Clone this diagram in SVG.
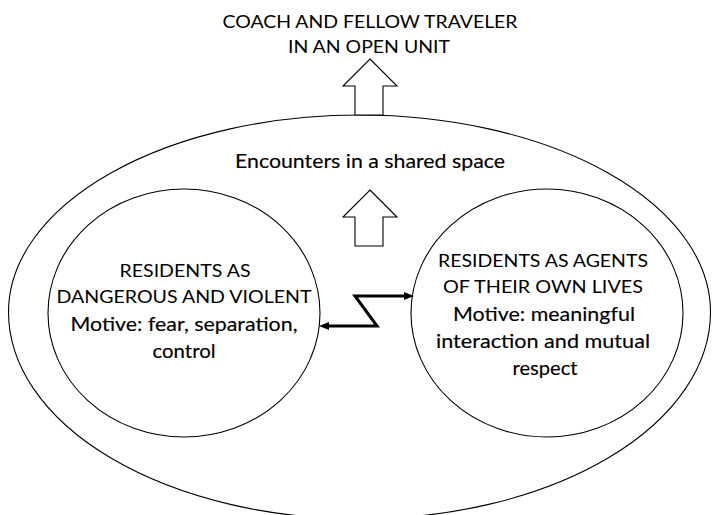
<svg xmlns="http://www.w3.org/2000/svg" width="712" height="515" viewBox="0 0 712 515">
<style>
.shape{fill:#fff;stroke:#000;stroke-width:1.1}
.caps{font-family:Lato,"Liberation Sans",sans-serif;font-size:18px;font-weight:400;text-anchor:middle;fill:#000}
.low{font-family:Lato,"Liberation Sans",sans-serif;font-size:19px;text-anchor:middle;fill:#000;stroke:#000;stroke-width:0.15}
.conn{fill:none;stroke:#000;stroke-width:3;stroke-linejoin:miter}
</style>
<defs>
<marker id="ah" viewBox="0 0 10 8" markerWidth="10" markerHeight="8" refX="1" refY="4" orient="auto-start-reverse" markerUnits="userSpaceOnUse">
<path d="M0,0 L10,4 L0,8 Z" fill="#000"/>
</marker>
</defs>
<rect width="712" height="515" fill="#fff"/>
<g id="shared-space">
<path class="shape" d="M 8.5,312 A 351 197 0 0 1 710.5,312 A 351 207 0 0 1 8.5,312 Z"/>
<text class="low" x="370" y="168" textLength="270" lengthAdjust="spacingAndGlyphs">Encounters in a shared space</text>
</g>
<g id="title">
<text class="caps" x="370" y="28" textLength="295" lengthAdjust="spacingAndGlyphs">COACH AND FELLOW TRAVELER</text>
<text class="caps" x="369" y="53" textLength="162" lengthAdjust="spacingAndGlyphs">IN AN OPEN UNIT</text>
</g>
<g id="outer-arrow">
<polygon class="shape" points="370,59 397,86 383,86 383,115 355,115 355,86 343,86"/>
</g>
<g id="inner-arrow">
<polygon class="shape" points="370,190 397,217 383,217 383,246 355,246 355,217 343,217"/>
</g>
<g id="left-node">
<ellipse class="shape" cx="184" cy="313" rx="136" ry="124"/>
<text class="caps" x="185" y="277" textLength="131" lengthAdjust="spacingAndGlyphs">RESIDENTS AS</text>
<text class="caps" x="184" y="303" textLength="255" lengthAdjust="spacingAndGlyphs">DANGEROUS AND VIOLENT</text>
<text class="low" x="184" y="331" textLength="227" lengthAdjust="spacingAndGlyphs">Motive: fear, separation,</text>
<text class="low" x="184" y="358" textLength="63" lengthAdjust="spacingAndGlyphs">control</text>
</g>
<g id="right-node">
<ellipse class="shape" cx="547" cy="313" rx="136" ry="124"/>
<text class="caps" x="543" y="267" textLength="210" lengthAdjust="spacingAndGlyphs">RESIDENTS AS AGENTS</text>
<text class="caps" x="543" y="293" textLength="200" lengthAdjust="spacingAndGlyphs">OF THEIR OWN LIVES</text>
<text class="low" x="544" y="321" textLength="182" lengthAdjust="spacingAndGlyphs">Motive: meaningful</text>
<text class="low" x="543" y="348" textLength="214" lengthAdjust="spacingAndGlyphs">interaction and mutual</text>
<text class="low" x="545" y="375" textLength="65" lengthAdjust="spacingAndGlyphs">respect</text>
</g>
<g id="connectors">
<path class="conn" d="M 328,326 L 377,326 L 355,296 L 405,296" marker-start="url(#ah)" marker-end="url(#ah)"/>
</g>
</svg>
